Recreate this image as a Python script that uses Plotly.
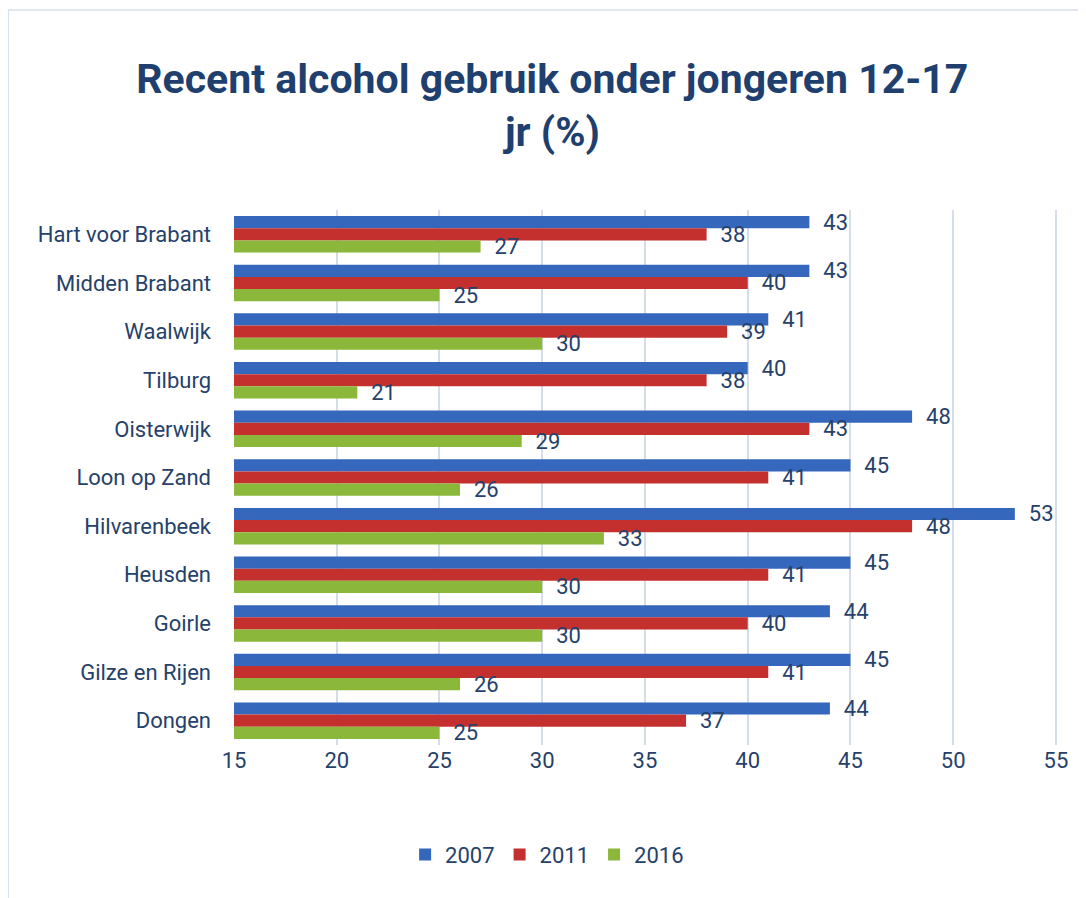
import plotly.graph_objects as go

# Data
regions = ['Hart voor Brabant', 'Midden Brabant', 'Waalwijk', 'Tilburg', 'Oisterwijk',
           'Loon op Zand', 'Hilvarenbeek', 'Heusden', 'Goirle', 'Gilze en Rijen', 'Dongen']
years = ['2007', '2011', '2016']
vals_2007 = [43, 43, 41, 40, 48, 45, 53, 45, 44, 45, 44]
vals_2011 = [38, 40, 39, 38, 43, 41, 48, 41, 40, 41, 37]
vals_2016 = [27, 25, 30, 21, 29, 26, 33, 30, 30, 26, 25]
colors = ['#3567BC', '#C3302E', '#8BB83A']
x_ticks = [15, 20, 25, 30, 35, 40, 45, 50, 55]

FONT = 'Roboto, Noto Sans, sans-serif'
TXT = '#26416A'

fig = go.Figure()
for year, vals, col in zip(years, [vals_2007, vals_2011, vals_2016], colors):
    fig.add_trace(go.Bar(
        y=regions, x=vals, name=year, orientation='h',
        marker=dict(color=col, line=dict(width=0)),
        texttemplate='\u00a0\u00a0%{x}', textposition='outside',
        textfont=dict(size=22, color=TXT, family=FONT),
        constraintext='none', cliponaxis=False,
    ))

# page adds an 8px body margin, so the figure is sized 8px smaller
fig.update_layout(
    width=1078, height=890,
    margin=dict(l=226, r=28, t=202, b=153),
    paper_bgcolor='white', plot_bgcolor='white',
    barmode='group', bargap=0.25, bargroupgap=0,
    font=dict(family=FONT, color=TXT, size=22),
    title=dict(text='<b>Recent alcohol gebruik onder jongeren 12-17<br>jr (%)</b>',
               x=0.505, xanchor='center', y=0.905, yanchor='top',
               font=dict(size=41, color='#1F3F6E', family=FONT)),
    legend=dict(orientation='h', x=0.38, xanchor='center', y=-0.205, yanchor='middle',
                font=dict(size=22, color=TXT), itemwidth=30, traceorder='normal'),
    showlegend=True,
)
fig.update_xaxes(range=[15, 55.1], tickvals=x_ticks, showgrid=True, gridcolor='#D5DEE8',
                 gridwidth=1.5, zeroline=False, showline=False, ticks='',
                 tickfont=dict(size=22, color=TXT), ticklabelstandoff=0)
fig.update_yaxes(autorange='reversed', showgrid=False, showline=False, ticks='',
                 tickfont=dict(size=22, color=TXT), ticklabelstandoff=22)

# thin light frame around the whole chart (only top and left edges show)
fig.add_shape(type='rect', xref='paper', yref='paper',
              x0=-0.274, x1=1.3, y0=-0.6, y1=1.374,
              line=dict(color='#D6E2EE', width=1.5), layer='below')

fig.write_html('out.html')
